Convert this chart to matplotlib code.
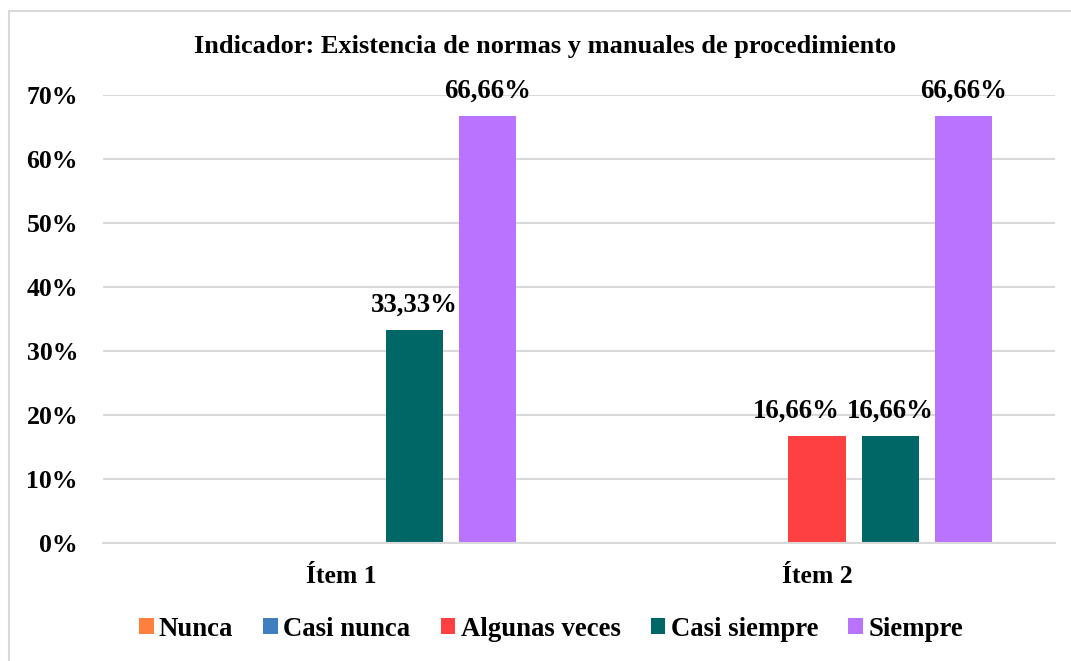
import matplotlib
matplotlib.use("Agg")
import matplotlib.pyplot as plt
from matplotlib.patches import Rectangle
import numpy as np

categories = ["Ítem 1", "Ítem 2"]
series_names = ["Nunca", "Casi nunca", "Algunas veces", "Casi siempre", "Siempre"]
nunca = [0.0, 0.0]
casi_nunca = [0.0, 0.0]
algunas_veces = [0.0, 16.66]
casi_siempre = [33.33, 16.66]
siempre = [66.66, 66.66]
colors = ["#FF7F3F", "#3F7FBF", "#FF4040", "#006666", "#B973FF"]
yticks = [0, 10, 20, 30, 40, 50, 60, 70]
title = "Indicador: Existencia de normas y manuales de procedimiento"

plt.rcParams['font.family'] = ['Liberation Serif', 'DejaVu Serif']
plt.rcParams['font.weight'] = 'bold'
FS = 18.5

fig = plt.figure(figsize=(10.71, 6.61), dpi=100)
ax = fig.add_axes([103/1071, 1-543/661, (1055-103)/1071, (543-95)/661])

# chart border (left and top visible)
fig.patches.append(Rectangle((9/1071, -0.1), 1.2, 1 - 11/661 + 0.1,
                             transform=fig.transFigure, fill=False,
                             edgecolor="#D9D9D9", linewidth=1.5))

all_series = [nunca, casi_nunca, algunas_veces, casi_siempre, siempre]
x = np.arange(len(categories))
width = 0.12
pitch = 0.1535
for i, (name, vals, col) in enumerate(zip(series_names, all_series, colors)):
    pos = x + (i - 2) * pitch
    bars = ax.bar(pos, vals, width, color=col, label=name, zorder=3)
    for b, v in zip(bars, vals):
        if v > 0:
            # shift the 'Algunas veces' label left to avoid collision, like the original
            dx = -15 if name == "Algunas veces" else 0
            ax.annotate(f"{v:.2f}".replace(".", ",") + "%",
                        (b.get_x() + b.get_width()/2, v),
                        xytext=(dx, 9), textcoords="offset points",
                        ha="center", va="bottom", fontsize=19.3, fontweight="bold")

ax.set_xlim(-0.5, 1.5)
ax.set_ylim(0, 70)
ax.set_yticks(yticks)
ax.set_yticklabels([f"{t}%" for t in yticks], fontsize=FS, fontweight="bold")
ax.set_xticks(x)
ax.set_xticklabels(categories, fontsize=FS, fontweight="bold")
ax.tick_params(axis="y", length=0, pad=18)
ax.tick_params(axis="x", length=0, pad=16)
ax.grid(axis="y", color="#D9D9D9", linewidth=1.5, zorder=0)
for s in ["left", "right", "top"]:
    ax.spines[s].set_visible(False)
ax.spines["bottom"].set_color("#D9D9D9")
ax.spines["bottom"].set_linewidth(1.5)
ax.spines["bottom"].set_zorder(4)

fig.text(545/1071, 1-46/661, title, ha="center", va="center",
         fontsize=19, fontweight="bold")

leg = fig.legend(loc="center", bbox_to_anchor=(551/1071, 1-629/661), ncol=5,
                 frameon=False, prop={"size": 19.3, "weight": "bold"},
                 handlelength=0.55, handleheight=0.55, handletextpad=0.2,
                 columnspacing=1.12)

fig.savefig("out.png", dpi=100)
